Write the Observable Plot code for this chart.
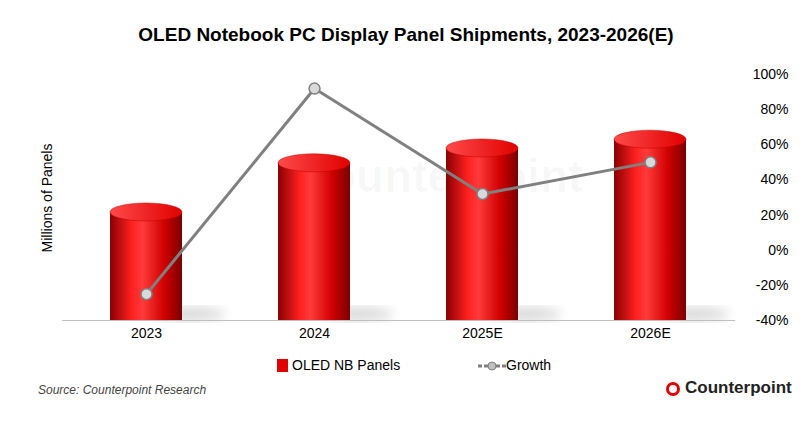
<!DOCTYPE html>
<html><head><meta charset="utf-8">
<script src="https://cdn.jsdelivr.net/npm/d3@7"></script>
<script src="https://cdn.jsdelivr.net/npm/@observablehq/plot@0.6"></script>
<style>
body{margin:0;background:#fff;font-family:Arial,"Liberation Sans",sans-serif;width:812px;height:422px;position:relative;overflow:hidden}
#title{position:absolute;top:24px;width:812px;text-align:center;font-weight:bold;font-size:19px;color:#000}
#chart{position:absolute;top:55px;left:0}
#ylab{position:absolute;left:47px;top:198px;transform:translate(-50%,-50%) rotate(-90deg);font-size:14px;white-space:nowrap}
#legend{position:absolute;top:357px;left:0;width:812px;font-size:14px}
#src{position:absolute;left:38px;top:383px;font-size:12px;font-style:italic;color:#444}
#logo{position:absolute;left:666px;top:378px;font-size:17px;font-weight:bold;color:#222}
</style></head><body>
<div id="title">OLED Notebook PC Display Panel Shipments, 2023-2026(E)</div>
<div id="ylab">Millions of Panels</div>
<div id="chart"></div>
<div id="legend">
 <span style="position:absolute;left:277px;top:2px;width:11px;height:13px;background:#e00000"></span>
 <span style="position:absolute;left:292px;top:0">OLED NB Panels</span>
 <svg style="position:absolute;left:478px;top:3px" width="28" height="12"><line x1="0" y1="6" x2="28" y2="6" stroke="#7f7f7f" stroke-width="3" stroke-dasharray="4,2"/><circle cx="14" cy="6" r="4" fill="#bfbfbf" stroke="#7f7f7f"/></svg>
 <span style="position:absolute;left:506px;top:0">Growth</span>
</div>
<div id="src">Source: Counterpoint Research</div>
<div id="logo"><span style="display:inline-block;width:14px;height:14px;border:3px solid #e00000;border-radius:50%;vertical-align:-3px;margin-right:5px;box-sizing:border-box"></span>Counterpoint</div>
<script>
const years = ["2023","2024","2025E","2026E"];
const shipments = [2.7, 3.93, 4.3, 4.52];   // millions (estimated)
const growth = [-25, 92, 32, 50];           // percent
const pctTicks = [-40,-20,0,20,40,60,80,100];
const leftMax = 6.15;
const toPct = v => -40 + v/leftMax*140;
const bars = years.map((y,i)=>({year:y, v:shipments[i], p:toPct(shipments[i])}));
const line = years.map((y,i)=>({year:y, g:growth[i]}));

const chart = Plot.plot({
  width: 812, height: 295,
  marginLeft: 62, marginRight: 77, marginTop: 19, marginBottom: 30,
  x: {domain: years, paddingInner: 0.57, paddingOuter: 0.285, label: null},
  y: {domain: [-40,100], label: null},
  style: {fontFamily: "Arial, 'Liberation Sans', sans-serif", fontSize: "14px", color:"#000"},
  marks: [
    Plot.text(["Counterpoint"], {frameAnchor:"middle", dx:40, dy:-20, fontSize:46, fontWeight:"bold", fill:"#000", fillOpacity:0.03}),
    Plot.barY(bars, {x:"year", y1:-40, y2:"p", fill:"url(#cyl)"}),
    Plot.ruleY([-40], {stroke:"#bfbfbf"}),
    Plot.axisX({tickSize:0, tickPadding:8, fontSize:14}),
    Plot.axisY({anchor:"right", ticks:pctTicks, tickFormat:d=>d+"%", tickSize:0, textAnchor:"end", dx:44, fontSize:14}),
    Plot.line(line, {x:"year", y:"g", stroke:"#808080", strokeWidth:3}),
    Plot.dot(line, {x:"year", y:"g", r:5.5, fill:"#d9d9d9", stroke:"#808080", strokeWidth:1.5})
  ]
});
const svg = d3.select(chart);
const defs = svg.insert("defs", ":first-child");
const g1 = defs.append("linearGradient").attr("id","cyl");
[[0,"#8a0000"],[0.3,"#ff2020"],[0.45,"#ff3a3a"],[0.75,"#d00000"],[1,"#7a0000"]].forEach(([o,c])=>g1.append("stop").attr("offset",o).attr("stop-color",c));
const g2 = defs.append("linearGradient").attr("id","top");
[[0,"#ff4a4a"],[1,"#e00000"]].forEach(([o,c])=>g2.append("stop").attr("offset",o).attr("stop-color",c));
const f = defs.append("filter").attr("id","blur"); f.append("feGaussianBlur").attr("stdDeviation",6);
const xs = chart.scale("x"), ys = chart.scale("y");
const bw = xs.bandwidth;
const shadowG = svg.insert("g", 'g[aria-label="bar"]');
const capG = svg.insert("g", 'g[aria-label="rule"]');
bars.forEach(d=>{
  const cx = xs.apply(d.year) + bw/2, yt = ys.apply(d.p), yb = ys.apply(-40);
  shadowG.append("ellipse").attr("cx",cx+bw*0.6).attr("cy",yb-6).attr("rx",bw*0.5).attr("ry",7).attr("fill","#000").attr("opacity",0.15).attr("filter","url(#blur)");
  capG.append("ellipse").attr("cx",cx).attr("cy",yt).attr("rx",bw/2).attr("ry",9).attr("fill","url(#top)").attr("stroke","#c00000").attr("stroke-width",0.5);
});
svg.select('g[aria-label="line"]').raise();
svg.select('g[aria-label="dot"]').raise();
document.getElementById("chart").append(chart);
</script></body></html>
